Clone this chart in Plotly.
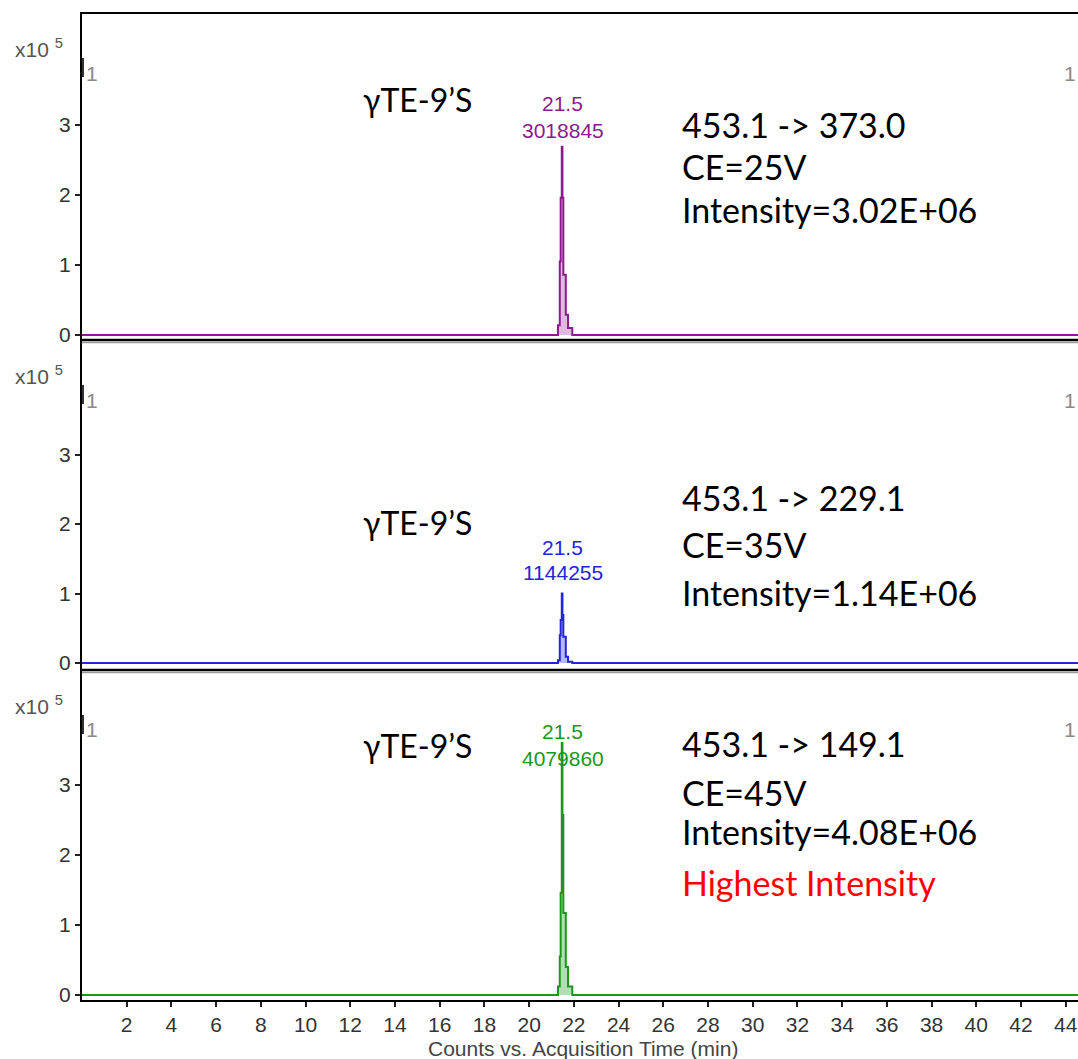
import plotly.graph_objects as go

# ---------------- data (intensity in x10^5 counts) ----------------
time_min = [0.0, 21.29, 21.37, 21.41, 21.46, 21.49, 21.53, 21.64, 21.74, 21.93, 44.6]
mrm_373 = [0, 0.14, 1.05, 1.96, 2.69, 1.96, 0.86, 0.29, 0.10, 0, 0]
mrm_229 = [0, 0.04, 0.40, 0.62, 1.00, 0.69, 0.38, 0.09, 0.02, 0, 0]
mrm_149 = [0, 0.12, 0.55, 1.46, 3.60, 2.57, 1.17, 0.40, 0.12, 0, 0]

peak_rt = [21.5, 21.5, 21.5]
peak_area = ["3018845", "1144255", "4079860"]
compound = ["γTE-9’S", "γTE-9’S", "γTE-9’S"]
transition = ["453.1 -> 373.0", "453.1 -> 229.1", "453.1 -> 149.1"]
collision = ["CE=25V", "CE=35V", "CE=45V"]
intensity = ["Intensity=3.02E+06", "Intensity=1.14E+06", "Intensity=4.08E+06"]
x_ticks = list(range(2, 46, 2))
y_ticks = [0, 1, 2, 3]

series = [mrm_373, mrm_229, mrm_149]
line_colors = ["#8B1C8B", "#2424E0", "#1E961E"]
fill_colors = ["rgba(160,60,160,0.35)", "rgba(60,70,225,0.38)", "rgba(40,160,40,0.35)"]

W, H = 1078, 1059
L, R, T, B = 82, 0, 12, 59
PW, PH = W - L - R, H - T - B


def px(xp):
    return (xp - L) / PW


def py(yp):
    return (H - B - yp) / PH


fig = go.Figure()
yrefs = ["y", "y2", "y3"]
for i, s in enumerate(series):
    fig.add_trace(go.Scatter(
        x=time_min, y=s, mode="lines", line=dict(color=line_colors[i], width=2, shape="hv"),
        fill="tozeroy", fillcolor=fill_colors[i], yaxis=yrefs[i], xaxis="x",
        showlegend=False, hoverinfo="skip"))

arial = "Liberation Sans, Arial, sans-serif"
cal = "Lato, Carlito, Calibri, sans-serif"
tickfont = dict(family=arial, size=21, color="#333333")

ax_common = dict(tickmode="array", tickvals=y_ticks, ticktext=[str(v) for v in y_ticks],
                 ticks="outside", ticklen=5, tickwidth=1.5, tickcolor="#222",
                 showline=True, linecolor="black", linewidth=2, showgrid=False,
                 zeroline=False, tickfont=tickfont, anchor="x")

fig.update_layout(
    width=W, height=H, margin=dict(l=L, r=R, t=T, b=B),
    paper_bgcolor="white", plot_bgcolor="white",
    xaxis=dict(range=[0, 44.55], tickmode="array", tickvals=x_ticks,
               ticktext=[str(v) for v in x_ticks], ticks="outside", ticklen=5,
               tickwidth=1.5, tickcolor="#222", showline=True, linecolor="black",
               linewidth=2, showgrid=False, zeroline=False, anchor="y3",
               tickfont=tickfont),
    yaxis=dict(domain=[py(340), 1.0], range=[-0.0714, 4.614], **ax_common),
    yaxis2=dict(domain=[py(670), py(340)], range=[-0.1, 4.65], **ax_common),
    yaxis3=dict(domain=[0, py(670)], range=[-0.0714, 4.643], **ax_common),
)

shapes = []
# top border and panel separators
shapes.append(dict(type="line", xref="paper", yref="paper", x0=0, x1=1, y0=py(13), y1=py(13),
                   line=dict(color="black", width=2)))
for yb in [340, 670]:
    shapes.append(dict(type="line", xref="paper", yref="paper", x0=0, x1=1, y0=py(yb), y1=py(yb),
                       line=dict(color="black", width=2.5)))
    shapes.append(dict(type="line", xref="paper", yref="paper", x0=0, x1=1, y0=py(yb + 2.5), y1=py(yb + 2.5),
                       line=dict(color="#9a9a9a", width=1.5)))
# darker segments on left border
for top in [13, 340, 670]:
    shapes.append(dict(type="line", xref="paper", yref="paper", x0=px(83), x1=px(83),
                       y0=py(top + 45), y1=py(top + 64), line=dict(color="#333", width=2)))
fig.update_layout(shapes=shapes)

ann = []
panel_tops = [13, 340, 670]
# scale label and corner "1"s
for i, top in enumerate(panel_tops):
    ann.append(dict(text="x10 <sup>5</sup>", xref="paper", yref="paper", x=px(65), y=py(top + 35),
                    xanchor="right", yanchor="middle", showarrow=False,
                    font=dict(family=arial, size=21, color="#555555")))
    ann.append(dict(text="1", xref="paper", yref="paper", x=px(92), y=py(top + 60),
                    xanchor="center", yanchor="middle", showarrow=False,
                    font=dict(family=arial, size=21, color="#8a8a8a")))
    ann.append(dict(text="1", xref="paper", yref="paper", x=px(1070), y=py(top + 60),
                    xanchor="center", yanchor="middle", showarrow=False,
                    font=dict(family=arial, size=21, color="#8a8a8a")))

# per-panel text positions in data units (y)
cmp_y = [3.36, 2.03, 3.57]
rt_y = [3.30, 1.67, 3.76]
area_y = [2.92, 1.31, 3.38]
info_y = [[3.0, 2.4, 1.79], [2.39, 1.70, 1.02], [3.6, 2.9, 2.33]]
for i in range(3):
    yr = yrefs[i]
    ann.append(dict(text=compound[i], xref="x", yref=yr, x=15.0, y=cmp_y[i], showarrow=False,
                    xanchor="center", yanchor="middle", font=dict(family=cal, size=32, color="black")))
    ann.append(dict(text=str(peak_rt[i]), xref="x", yref=yr, x=peak_rt[i], y=rt_y[i], showarrow=False,
                    xanchor="center", yanchor="middle", font=dict(family=arial, size=21, color=line_colors[i])))
    ann.append(dict(text=peak_area[i], xref="x", yref=yr, x=peak_rt[i], y=area_y[i], showarrow=False,
                    xanchor="center", yanchor="middle", font=dict(family=arial, size=21, color=line_colors[i])))
    for j, txt in enumerate([transition[i], collision[i], intensity[i]]):
        ann.append(dict(text=txt, xref="x", yref=yr, x=26.75, y=info_y[i][j], showarrow=False,
                        xanchor="left", yanchor="middle", font=dict(family=cal, size=34, color="black")))
ann.append(dict(text="Highest Intensity", xref="x", yref="y3", x=26.75, y=1.61, showarrow=False,
                xanchor="left", yanchor="middle", font=dict(family=cal, size=34, color="#FF0000")))

ann.append(dict(text="Counts vs. Acquisition Time (min)", xref="paper", yref="paper", x=px(583), y=py(1048),
                xanchor="center", yanchor="middle", showarrow=False,
                font=dict(family=arial, size=21, color="#444444")))
fig.update_layout(annotations=ann)

fig.write_html("out.html")
